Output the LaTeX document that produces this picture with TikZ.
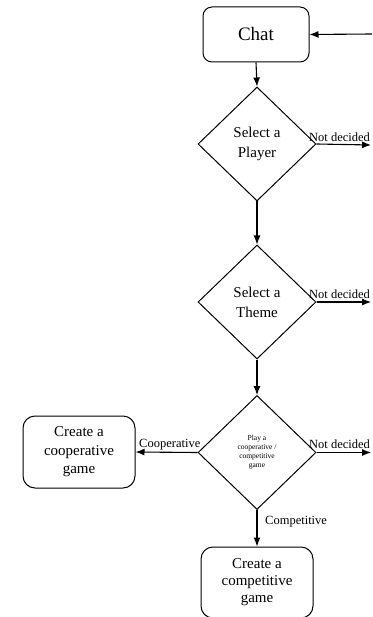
\documentclass[tikz,border=0pt]{standalone}
\usepackage{fontspec}
\setmainfont{Liberation Serif}
\usetikzlibrary{shapes.geometric,arrows.meta}
\begin{document}
\begin{tikzpicture}[x=1pt,y=-1pt,
  box/.style={draw, rounded corners=9pt, align=center, inner sep=0pt, line width=1pt},
  dia/.style={draw, diamond, inner sep=0pt, minimum width=118pt, minimum height=114pt, align=center, line width=1pt},
  arr/.style={-{Latex[length=9pt,width=7pt]}, line width=1.1pt},
  lab/.style={font=\fontsize{12.5}{14}\selectfont, inner sep=0pt}]
\useasboundingbox (0,0) rectangle (372,617);
\clip (0,0) rectangle (372,617);
\node[box, minimum width=106pt, minimum height=55pt, font=\fontsize{19}{22}\selectfont] (chat) at (256,34.5) {Chat};
\node[dia, font=\fontsize{15}{20}\selectfont] (d1) at (257,144) {Select a\\Player};
\node[dia, font=\fontsize{15}{20}\selectfont] (d2) at (257,302) {Select a\\Theme};
\node[dia, font=\fontsize{7.5}{9}\selectfont] (d3) at (257,452.5) {Play a\\cooperative /\\competitive\\game};
\node[box, rounded corners=12pt, minimum width=112pt, minimum height=72pt, font=\fontsize{15}{18.5}\selectfont] (coop) at (79,452) {Create a\\cooperative\\game};
\node[box, rounded corners=12pt, minimum width=112pt, minimum height=71pt, font=\fontsize{15}{17}\selectfont] (comp) at (257,582.5) {Create a\\competitive\\game};
\coordinate (in) at (372,34);
\coordinate (n1) at (371,145);
\coordinate (n2) at (371,302);
\coordinate (n3) at (371,452.5);
\draw[arr] (in) -- (chat.east);
\draw[arr] (chat.south) -- (d1.north);
\draw[arr] (d1.south) -- (d2.north);
\draw[arr] (d2.south) -- (d3.north);
\draw[arr] (d3.south) -- (comp.north);
\draw[arr] (d3.west) -- (coop.east);
\draw[arr] (d1.east) -- (n1);
\draw[arr] (d2.east) -- (n2);
\draw[arr] (d3.east) -- (n3);
\node[lab, anchor=base west] (l1) at (309,141.5) {Not decided};
\node[lab, anchor=base west] (l2) at (309,298.5) {Not decided};
\node[lab, anchor=base west] (l3) at (309,448.5) {Not decided};
\node[lab, anchor=base west] (l4) at (139,447.5) {Cooperative};
\node[lab, anchor=base west] (l5) at (265,524) {Competitive};
\end{tikzpicture}
\end{document}
